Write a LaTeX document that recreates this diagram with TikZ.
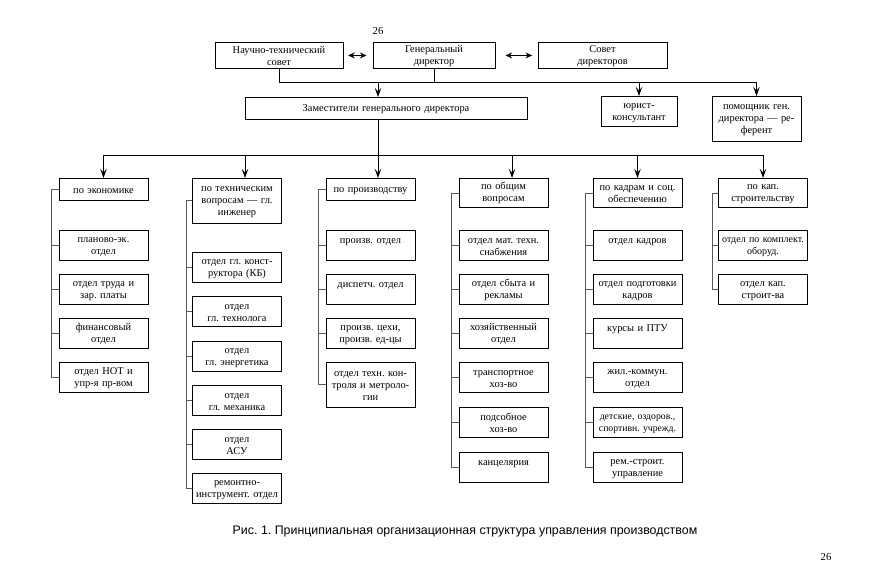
\documentclass[tikz,border=0pt]{standalone}
\usepackage{fontspec}
\setmainfont{Liberation Serif}
\newfontfamily\capfont{Liberation Sans}
\usetikzlibrary{arrows.meta}
\frenchspacing

\begin{document}
\begin{tikzpicture}[x=0.75pt,y=-0.75pt,
  box/.style={draw,line width=0.65pt,fill=white,align=center,anchor=north,
    font=\fontsize{7.8}{9}\selectfont,text width=66pt,text height=5.8pt,
    inner xsep=0.3pt,inner ysep=2.2pt,minimum width=66.75pt,minimum height=22.5pt},
  head/.style={box,minimum height=16.5pt},
  topbox/.style={box,inner ysep=1.5pt,minimum height=19.5pt},
  line/.style={line width=0.65pt},
  tree/.style={line width=0.75pt,draw=black!65},
  flow/.style={line width=0.65pt,-{Stealth[length=7pt,width=5pt,inset=3pt]}},
  twoway/.style={line width=0.65pt,{Stealth[length=5pt,width=4.5pt]}-{Stealth[length=5pt,width=4.5pt]}}]
\useasboundingbox (0,0) rectangle (878,570);
\node[font=\fontsize{8}{9}\selectfont] (pgtop) at (378,31) {26};
% top level
\node[topbox,text width=94pt,minimum width=96pt] (nts) at (279,42) {Научно-технический\\совет};
\node[topbox,text width=89pt,minimum width=91.5pt] (gd) at (434,42) {Генеральный\\директор};
\node[topbox,text width=94pt,minimum width=96.75pt] (snd) at (602.5,42) {Совет\\директоров};
\draw[twoway,line width=1pt,shorten <=3.5pt,shorten >=4.5pt] (nts.east) -- (gd.west);
\draw[twoway,shorten <=7.5pt,shorten >=4pt] (gd.east) -- (snd.west);
\node[head,text width=209pt,minimum width=211.5pt] (zam) at (386,97) {Заместители генерального директора};
\node[box,text width=55pt,minimum width=57pt] (jur) at (639,96) {юрист-\\консультант};
\node[box,minimum height=33.75pt] (pom) at (756.5,96) {помощник ген.\\директора — ре-\\ферент};
\coordinate (bus1) at (0,82);
\draw[line] (nts.south) |- (pom.north |- bus1);
\draw[line] (gd.south) -- (gd.south |- bus1);
\draw[flow] ([xshift=-6pt]zam.north |- bus1) -- ([xshift=-6pt]zam.north);
\draw[flow] (jur.north |- bus1) -- (jur.north);
\draw[flow] (pom.north |- bus1) -- (pom.north);
% deputies
\node[head] (ec) at (103.5,178) {по экономике};
\node[head,minimum height=33.75pt] (tech) at (237,178) {по техническим\\вопросам — гл.\\инженер};
\node[head] (prod) at (370.5,178) {по производству};
\node[head,minimum height=22pt] (gen) at (503.5,178) {по общим\\вопросам};
\node[head,minimum height=22pt] (kadr) at (637.5,178) {по кадрам и соц.\\обеспечению};
\node[head,minimum height=22pt] (kap) at (763,178) {по кап.\\строительству};
\coordinate (bus2) at (0,155);
\draw[line] ([xshift=-6pt]zam.south) -- ([xshift=-6pt]zam.south |- bus2);
\draw[line] (ec.north |- bus2) -- (kap.north |- bus2);
\draw[flow] (ec.north |- bus2) -- (ec.north);
\draw[flow] ([xshift=6pt]tech.north |- bus2) -- ([xshift=6pt]tech.north);
\draw[flow] ([xshift=5.6pt]prod.north |- bus2) -- ([xshift=5.6pt]prod.north);
\draw[flow] ([xshift=6.4pt]gen.north |- bus2) -- ([xshift=6.4pt]gen.north);
\draw[flow] (kadr.north |- bus2) -- (kadr.north);
\draw[flow] (kap.north |- bus2) -- (kap.north);
% economics
\node[box] (ec1) at (103.5,230) {планово-эк.\\отдел};
\node[box] (ec2) at (103.5,274) {отдел труда и\\зар. платы};
\node[box] (ec3) at (103.5,318) {финансовый\\отдел};
\node[box] (ec4) at (103.5,362) {отдел НОТ и\\упр-я пр-вом};
\draw[tree] (ec.west) -- ++(-5.25pt,0) |- (ec4.west)
  (ec1.west) -- ++(-5.25pt,0) (ec2.west) -- ++(-5.25pt,0) (ec3.west) -- ++(-5.25pt,0);
% chief engineer
\node[box] (tech1) at (237,252) {отдел гл. конст-\\руктора (КБ)};
\node[box] (tech2) at (237,296) {отдел\\гл. технолога};
\node[box] (tech3) at (237,341) {отдел\\гл. энергетика};
\node[box] (tech4) at (237,385) {отдел\\гл. механика};
\node[box] (tech5) at (237,429) {отдел\\АСУ};
\node[box] (tech6) at (237,473) {ремонтно-\\инструмент. отдел};
\draw[tree] (tech.west) -- ++(-4.5pt,0) |- (tech6.west)
  (tech1.west) -- ++(-4.5pt,0) (tech2.west) -- ++(-4.5pt,0) (tech3.west) -- ++(-4.5pt,0)
  (tech4.west) -- ++(-4.5pt,0) (tech5.west) -- ++(-4.5pt,0);
% production
\node[box] (prod1) at (370.5,230) {произв. отдел\\\mbox{}};
\node[box] (prod2) at (370.5,274) {диспетч. отдел\\\mbox{}};
\node[box] (prod3) at (370.5,318) {произв. цехи,\\произв. ед-цы};
\node[box,minimum height=33.75pt] (prod4) at (370.5,362) {отдел техн. кон-\\троля и метроло-\\гии};
\draw[tree] (prod.west) -- ++(-5.25pt,0) |- (prod4.west)
  (prod1.west) -- ++(-5.25pt,0) (prod2.west) -- ++(-5.25pt,0) (prod3.west) -- ++(-5.25pt,0);
% general affairs
\node[box] (gen1) at (503.5,230) {отдел мат. техн.\\снабжения};
\node[box] (gen2) at (503.5,274) {отдел сбыта и\\рекламы};
\node[box] (gen3) at (503.5,318) {хозяйственный\\отдел};
\node[box] (gen4) at (503.5,362) {транспортное\\хоз-во};
\node[box] (gen5) at (503.5,407) {подсобное\\хоз-во};
\node[box] (gen6) at (503.5,452) {канцелярия\\\mbox{}};
\draw[tree] (gen.west) -- ++(-5.25pt,0) |- (gen6.west)
  (gen1.west) -- ++(-5.25pt,0) (gen2.west) -- ++(-5.25pt,0) (gen3.west) -- ++(-5.25pt,0)
  (gen4.west) -- ++(-5.25pt,0) (gen5.west) -- ++(-5.25pt,0);
% personnel
\node[box] (kadr1) at (637.5,230) {отдел кадров\\\mbox{}};
\node[box] (kadr2) at (637.5,274) {отдел подготовки\\кадров};
\node[box] (kadr3) at (637.5,318) {курсы и ПТУ\\\mbox{}};
\node[box] (kadr4) at (637.5,362) {жил.-коммун.\\отдел};
\node[box,font=\fontsize{7.3}{9}\selectfont] (kadr5) at (637.5,407) {детские, оздоров.,\\спортивн. учрежд.};
\node[box] (kadr6) at (637.5,452) {рем.-строит.\\управление};
\draw[tree] (kadr.west) -- ++(-5.25pt,0) |- (kadr6.west)
  (kadr1.west) -- ++(-5.25pt,0) (kadr2.west) -- ++(-5.25pt,0) (kadr3.west) -- ++(-5.25pt,0)
  (kadr4.west) -- ++(-5.25pt,0) (kadr5.west) -- ++(-5.25pt,0);
% capital construction
\node[box,font=\fontsize{7.5}{9}\selectfont] (kap1) at (763,230) {отдел по комплект.\\оборуд.};
\node[box] (kap2) at (763,274) {отдел кап.\\строит-ва};
\draw[tree] (kap.west) -- ++(-4.5pt,0) |- (kap2.west)
  (kap1.west) -- ++(-4.5pt,0);
\node[font=\capfont\fontsize{9.3}{11}\selectfont] (cap) at (465,532)
  {Рис. 1. Принципиальная организационная структура управления производством};
\node[font=\fontsize{8}{9}\selectfont] (pgbot) at (826,557) {26};
\end{tikzpicture}
\end{document}
